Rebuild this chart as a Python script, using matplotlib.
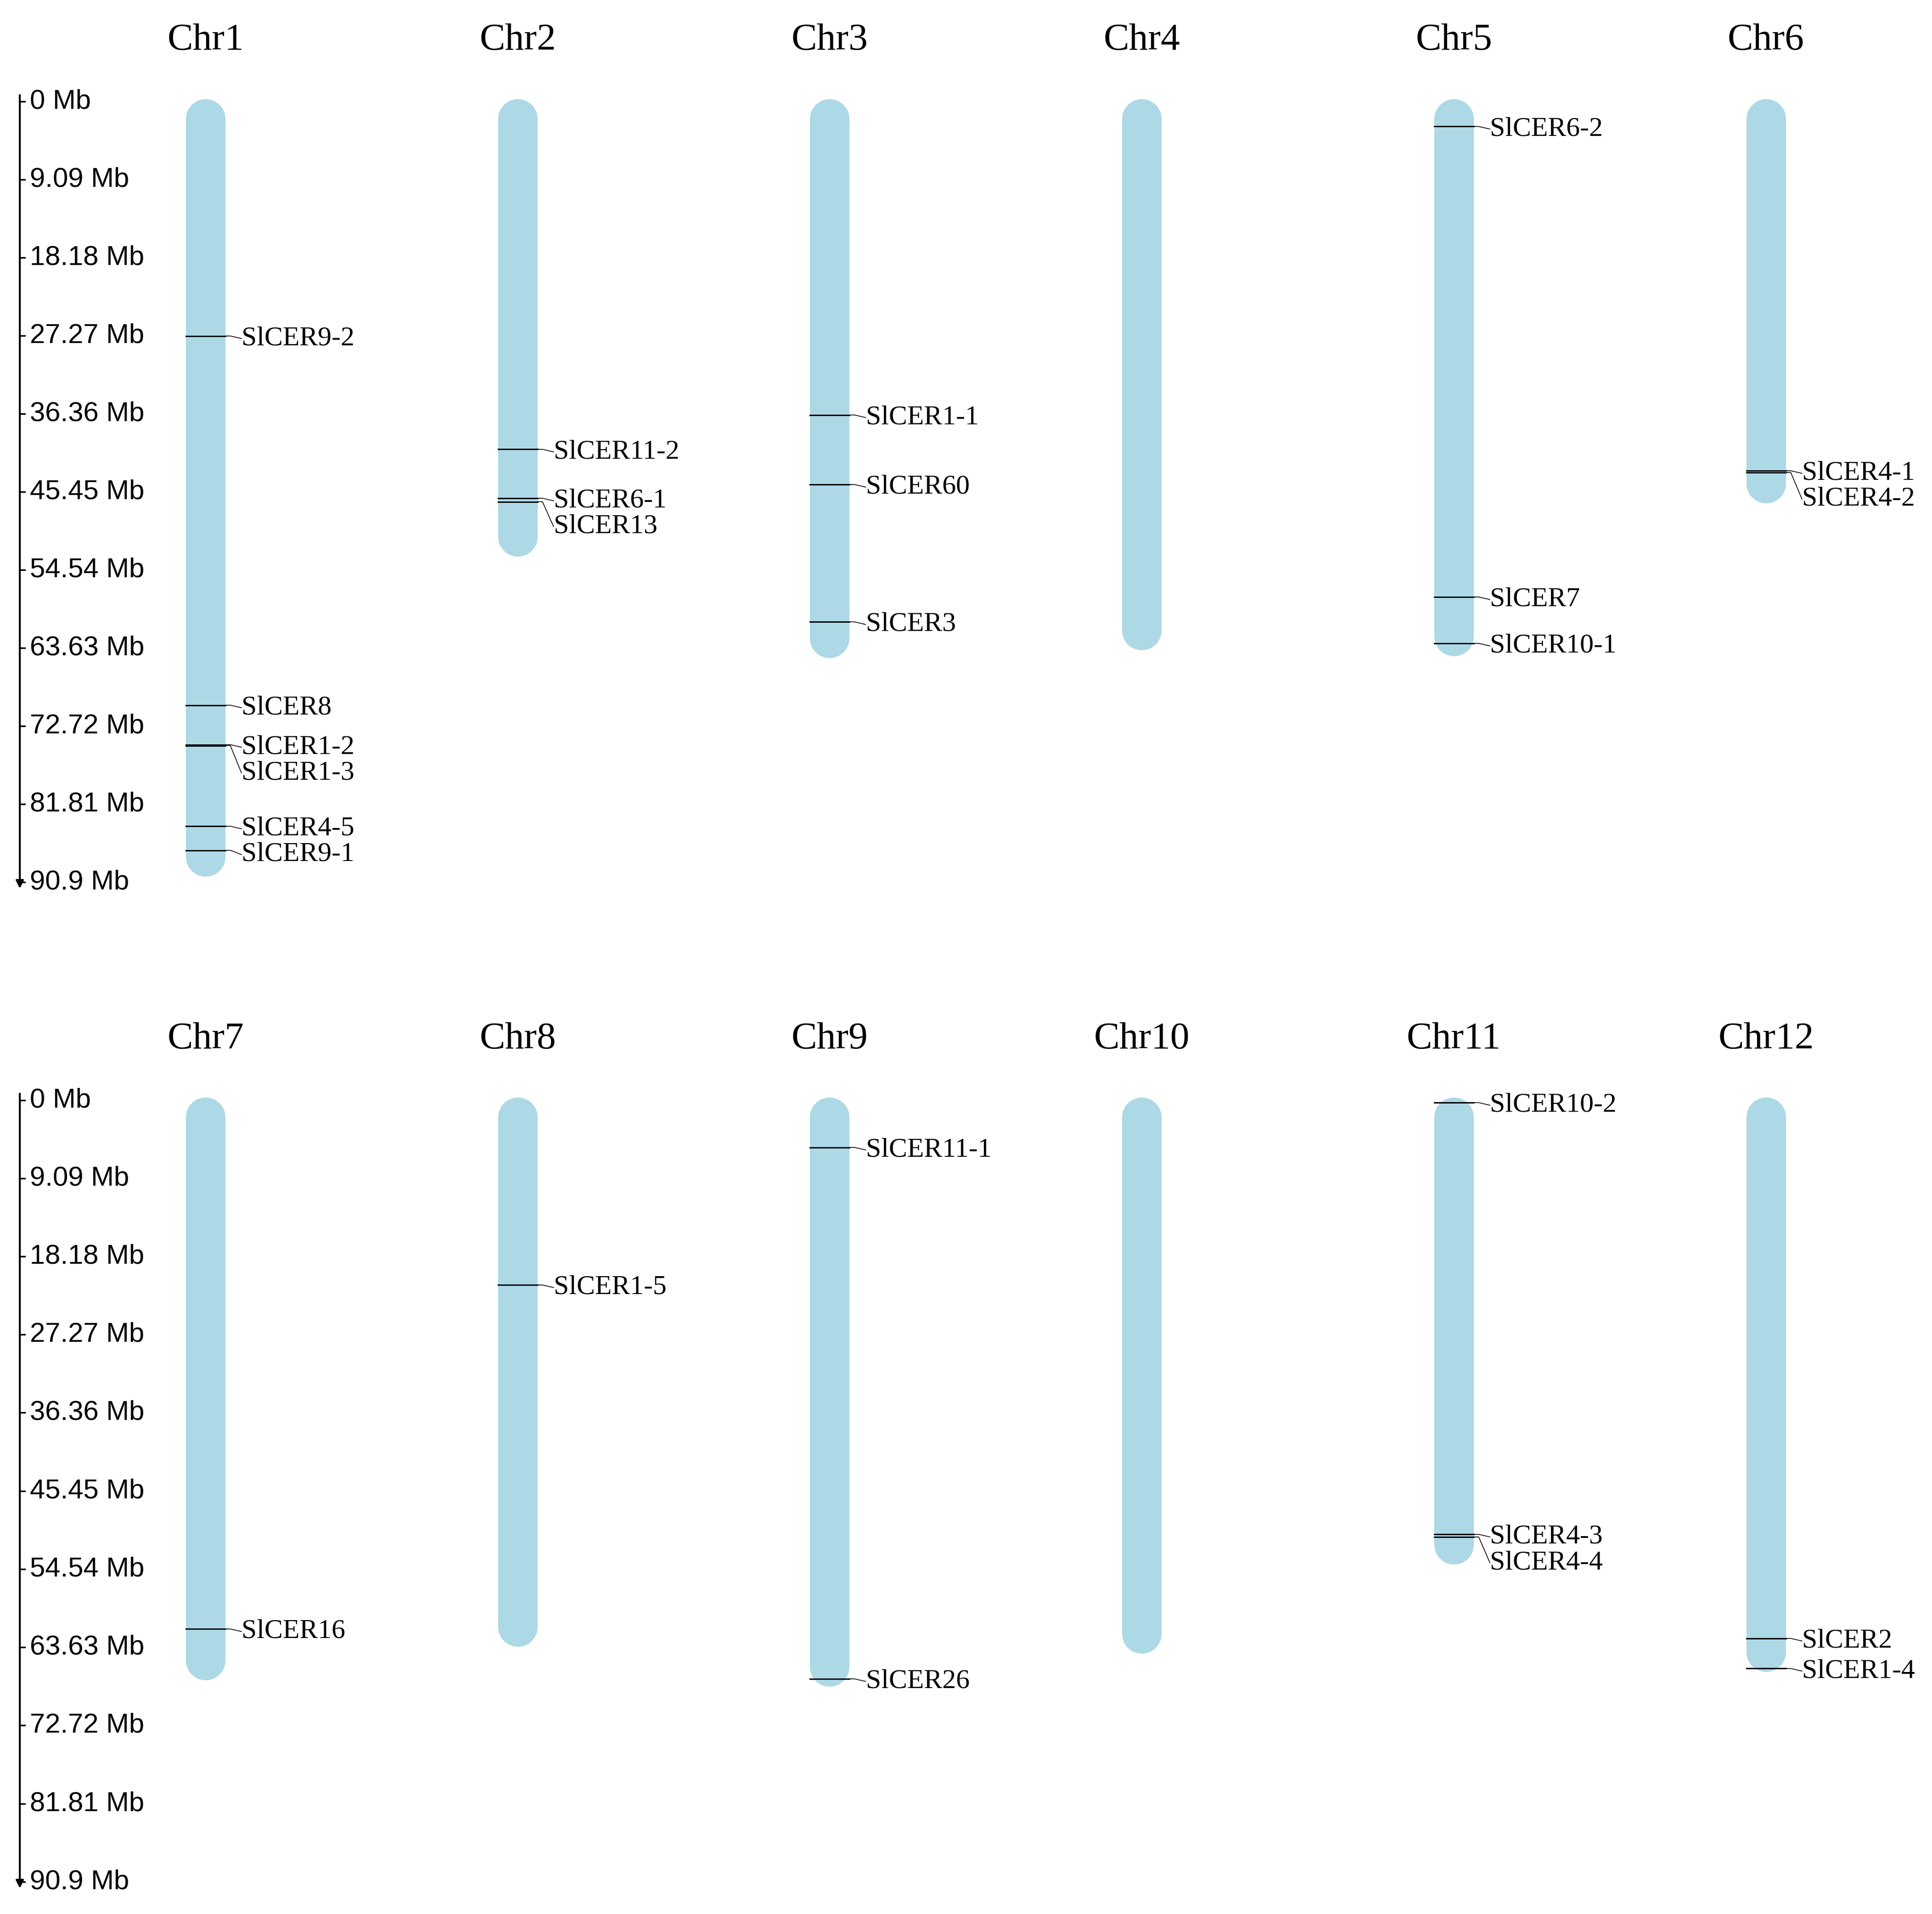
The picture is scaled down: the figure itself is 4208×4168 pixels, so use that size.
import matplotlib
matplotlib.use("Agg")
import matplotlib.pyplot as plt

top_chroms = ["Chr1", "Chr2", "Chr3", "Chr4", "Chr5", "Chr6"]
top_lengths = [90.3, 53.0, 64.8, 63.9, 64.6, 46.8]
bot_chroms = ["Chr7", "Chr8", "Chr9", "Chr10", "Chr11", "Chr12"]
bot_lengths = [67.5, 63.6, 68.2, 64.4, 54.0, 66.5]

gene_names = ["SlCER9-2", "SlCER8", "SlCER1-2", "SlCER1-3", "SlCER4-5", "SlCER9-1",
              "SlCER11-2", "SlCER6-1", "SlCER13",
              "SlCER1-1", "SlCER60", "SlCER3",
              "SlCER6-2", "SlCER7", "SlCER10-1",
              "SlCER4-1", "SlCER4-2",
              "SlCER16", "SlCER1-5", "SlCER11-1", "SlCER26",
              "SlCER10-2", "SlCER4-3", "SlCER4-4", "SlCER2", "SlCER1-4"]
gene_chrom = ["Chr1", "Chr1", "Chr1", "Chr1", "Chr1", "Chr1",
              "Chr2", "Chr2", "Chr2",
              "Chr3", "Chr3", "Chr3",
              "Chr5", "Chr5", "Chr5",
              "Chr6", "Chr6",
              "Chr7", "Chr8", "Chr9", "Chr9",
              "Chr11", "Chr11", "Chr11", "Chr12", "Chr12"]
gene_pos = [27.3, 70.3, 74.9, 75.0, 84.4, 87.2,
            40.5, 46.2, 46.6,
            36.5, 44.6, 60.6,
            2.9, 57.7, 63.1,
            43.0, 43.2,
            61.5, 21.5, 5.5, 67.3,
            0.3, 50.5, 50.8, 62.6, 66.1]
tick_vals = [0, 9.09, 18.18, 27.27, 36.36, 45.45, 54.54, 63.63, 72.72, 81.81, 90.9]
tick_labels = ["0 Mb", "9.09 Mb", "18.18 Mb", "27.27 Mb", "36.36 Mb", "45.45 Mb",
               "54.54 Mb", "63.63 Mb", "72.72 Mb", "81.81 Mb", "90.9 Mb"]

W, H = 1560.0, 1545.0
fig = plt.figure(figsize=(42.08, 41.68), dpi=100)
COLOR = "#ADD8E6"
MBPX = 630 / 90.9  # display px per Mb
half_w_mb = 16 / MBPX
half_w = 16 / 253.0
SP = 252.0

def panel(y0, y1, chroms, lengths):
    ax = fig.add_axes([0, 1 - y1 / H, 1, (y1 - y0) / H])
    ax.set_xlim(-166 / SP, (W - 166) / SP)
    ax.set_ylim(90.9, 0)
    ax.axis("off")
    xa = (16 - 166) / SP
    ax.annotate("", xy=(xa, 91.8), xytext=(xa, -0.9),
                arrowprops=dict(arrowstyle="-|>", lw=3, color="black", mutation_scale=25),
                annotation_clip=False)
    for v, lab in zip(tick_vals, tick_labels):
        ax.plot([xa, xa + 4 / SP], [v, v], color="black", lw=2.5, clip_on=False)
        ax.text(xa + 8 / SP, v, lab, ha="left", va="center", fontsize=43,
                family="Liberation Sans", clip_on=False)
    for i, (c, L) in enumerate(zip(chroms, lengths)):
        ax.plot([i, i], [half_w_mb - 0.3, L - half_w_mb], color=COLOR, lw=62,
                solid_capstyle="round", clip_on=False)
        ax.text(i, -7.1, c, ha="center", va="center", fontsize=60,
                family="Liberation Serif", clip_on=False)
        idx = [k for k in range(len(gene_names)) if gene_chrom[k] == c]
        idx.sort(key=lambda k: gene_pos[k])
        ly = []
        for k in idx:
            y = gene_pos[k]
            if ly and y < ly[-1] + 3.0:
                y = ly[-1] + 3.0
            ly.append(y)
        for k, y in zip(idx, ly):
            p = gene_pos[k]
            ax.plot([i - half_w, i + half_w], [p, p], color="black", lw=2.2, clip_on=False)
            xe = i + 20 / SP
            xl = i + 29 / SP
            ax.plot([i + half_w, xe, xl], [p, p, y + 0.3], color="black", lw=1.2, clip_on=False)
            ax.text(xl, y + 0.3, gene_names[k], ha="left", va="center",
                    fontsize=43, family="Liberation Serif", clip_on=False)

panel(82, 712, top_chroms, top_lengths)
panel(888, 1519, bot_chroms, bot_lengths)
fig.savefig("out.png", dpi=100, facecolor="white")
